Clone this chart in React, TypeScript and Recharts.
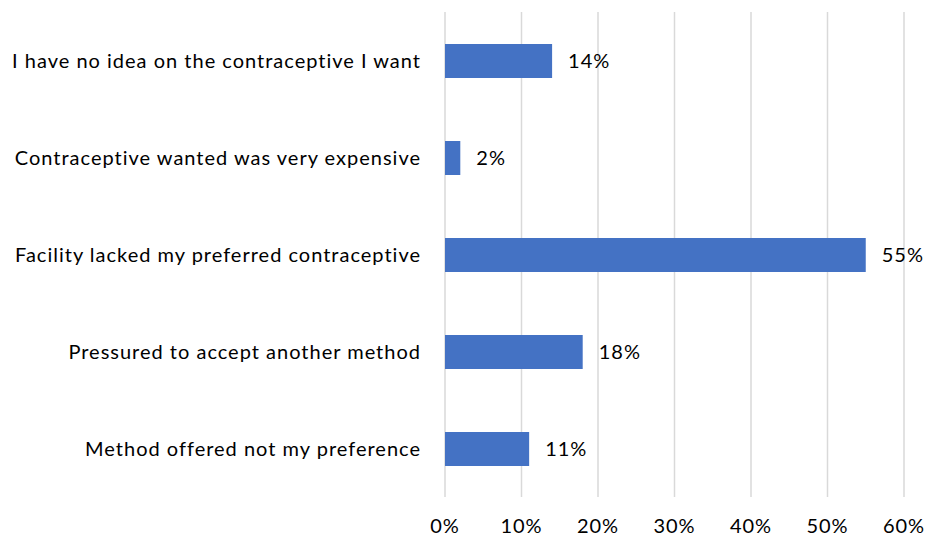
import { BarChart, Bar, XAxis, YAxis, CartesianGrid, LabelList } from 'recharts';

const categories = [
  'I have no idea on the contraceptive I want',
  'Contraceptive wanted was very expensive',
  'Facility lacked my preferred contraceptive',
  'Pressured to accept another method',
  'Method offered not my preference',
];
const shares = [14, 2, 55, 18, 11];
const xTicks = [0, 10, 20, 30, 40, 50, 60];

const data = categories.map((name, i) => ({ name, value: shares[i] }));

const FONT = 'Lato, "Liberation Sans", sans-serif';
const textStyle = { fontSize: 20, fill: '#000', fontFamily: FONT, letterSpacing: 1 };

export default function App() {
  return (
    <div style={{ position: 'absolute', left: 0, top: 0, background: '#fff' }}>
      <BarChart
        width={929}
        height={538}
        data={data}
        layout="vertical"
        margin={{ top: 12, right: 25, bottom: 0, left: 0 }}
        style={{ fontFamily: FONT }}
      >
        <CartesianGrid horizontal={false} stroke="#d9d9d9" strokeWidth={1.5} />
        <XAxis
          type="number"
          domain={[0, 60]}
          ticks={xTicks}
          tickFormatter={(v: number) => `${v}%`}
          axisLine={false}
          tickLine={false}
          tickSize={0}
          tickMargin={22}
          height={41}
          interval={0}
          tick={textStyle}
        />
        <YAxis
          type="category"
          dataKey="name"
          width={445}
          axisLine={false}
          tickLine={false}
          tickSize={0}
          tickMargin={24}
          interval={0}
          tick={textStyle}
        />
        <Bar dataKey="value" fill="#4472c4" barSize={34} isAnimationActive={false}>
          <LabelList
            dataKey="value"
            position="right"
            offset={16}
            formatter={(v: number) => `${v}%`}
            style={textStyle}
          />
        </Bar>
      </BarChart>
    </div>
  );
}
